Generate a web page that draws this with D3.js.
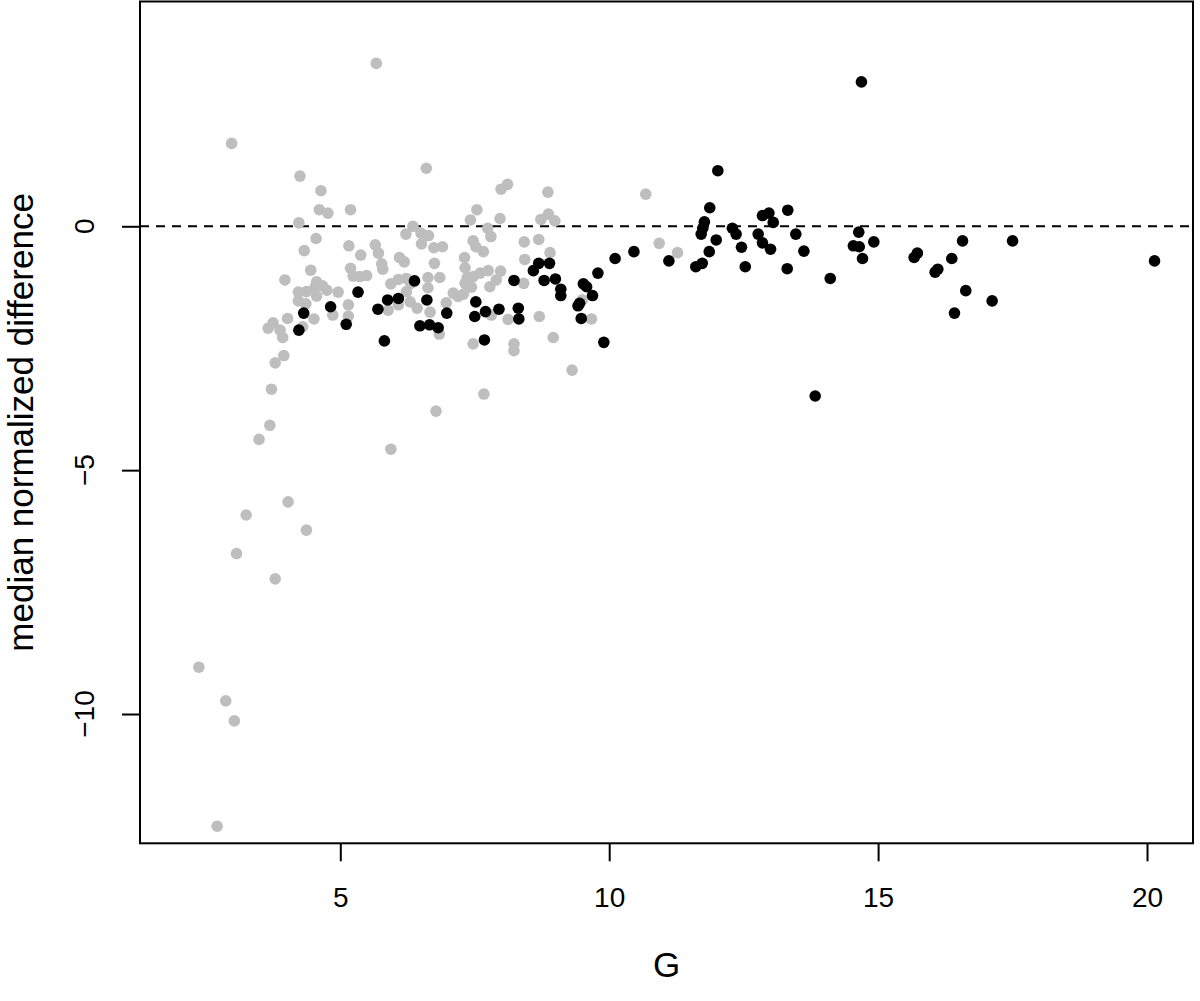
<!DOCTYPE html>
<html>
<head>
<meta charset="utf-8">
<script src="https://cdn.jsdelivr.net/npm/d3@7"></script>
<style>
  html, body { margin: 0; padding: 0; background: #fff; }
  svg { display: block; }
  text { font-family: "Liberation Sans", Arial, Helvetica, sans-serif; fill: #000; }
</style>
</head>
<body>
<svg id="chart" width="1200" height="1001"></svg>
<script>
// ---- data ----
const grayG = [5.67,2.98,4.25,4.64,4.61,4.77,5.19,6.60,4.23,4.55,6.22,6.35,6.50,6.64,
  7.99,8.11,8.86,10.68,7.54,7.42,7.97,8.73,8.87,8.99,7.74,7.80,7.47,7.52,7.66,8.42,8.69,8.43,8.90,
  6.74,6.90,6.75,6.63,6.85,6.63,7.31,7.32,7.36,7.47,7.60,7.75,7.98,7.90,7.78,7.32,7.44,7.10,7.19,7.29,
  6.97,6.67,6.84,7.81,8.12,8.41,8.70,8.96,7.47,8.23,8.23,9.31,7.67,9.50,9.67,10.93,11.27,
  4.33,5.16,5.65,5.71,5.38,6.51,6.10,6.19,5.77,5.79,4.45,5.19,5.24,5.36,5.49,5.94,6.08,6.23,6.31,
  6.23,6.30,6.08,5.89,6.43,3.97,4.22,4.37,4.53,4.56,4.75,4.67,4.96,4.56,4.22,4.36,4.30,4.02,4.51,
  4.86,5.15,5.15,3.66,3.75,3.88,3.93,3.95,3.79,3.72,3.69,3.49,5.94,6.78,
  4.03,3.25,4.37,3.07,3.79,2.37,2.87,3.03,2.71];
const grayDiff = [3.34,1.70,1.03,0.73,0.34,0.27,0.34,1.19,0.07,-0.25,-0.16,0.00,-0.14,-0.19,
  0.76,0.86,0.70,0.66,0.34,0.13,0.16,0.14,0.25,0.11,-0.04,-0.21,-0.30,-0.42,-0.52,-0.32,-0.27,-0.68,-0.54,
  -0.44,-0.42,-0.76,-1.05,-1.05,-1.26,-0.64,-0.85,-1.05,-1.03,-0.96,-0.91,-0.92,-1.10,-1.24,-1.17,-1.25,-1.37,-1.44,-1.39,
  -1.57,-1.76,-2.21,-1.82,-1.91,-1.17,-1.85,-2.28,-2.41,-2.41,-2.55,-2.95,-3.44,-1.51,-1.90,-0.35,-0.54,
  -0.50,-0.40,-0.38,-0.55,-0.59,-0.36,-0.64,-0.73,-0.77,-0.88,-0.90,-0.86,-1.02,-1.03,-1.01,-1.18,-1.09,-1.07,-1.17,
  -1.34,-1.55,-1.61,-1.72,-1.68,-1.10,-1.35,-1.34,-1.25,-1.14,-1.31,-1.22,-1.35,-1.43,-1.53,-1.59,-2.06,-1.89,-1.90,
  -1.82,-1.61,-1.84,-2.09,-1.98,-2.13,-2.28,-2.65,-2.80,-3.34,-4.08,-4.37,-4.57,-3.79,
  -5.65,-5.92,-6.23,-6.71,-7.23,-9.04,-9.73,-10.14,-12.30];
const blackG = [14.69,12.02,11.87,11.77,11.74,11.71,11.99,11.86,11.73,11.61,11.11,10.46,10.11,9.79,9.69,
  9.52,9.58,9.42,9.45,9.48,9.90,9.10,9.10,9.00,8.79,8.89,8.69,8.59,8.23,8.31,8.32,7.95,7.70,7.52,7.50,7.68,
  6.98,6.61,6.48,6.66,6.82,5.33,4.82,4.32,4.23,5.11,5.70,5.88,6.08,6.38,5.82,
  12.29,12.36,12.46,12.53,12.85,12.97,13.05,12.77,12.85,13.00,13.32,13.47,13.62,13.31,14.11,
  14.64,14.54,14.65,14.71,14.92,15.67,15.73,16.06,16.11,16.37,16.57,16.63,16.42,17.12,17.50,20.14,13.83];
const blackDiff = [2.96,1.14,0.38,0.09,-0.04,-0.16,-0.28,-0.52,-0.76,-0.83,-0.71,-0.52,-0.66,-0.96,-1.42,
  -1.18,-1.24,-1.63,-1.58,-1.89,-2.38,-1.29,-1.42,-1.08,-1.11,-0.76,-0.76,-0.91,-1.11,-1.68,-1.90,-1.70,-1.75,-1.55,-1.85,-2.33,
  -1.78,-1.51,-2.04,-2.02,-2.08,-1.35,-1.65,-1.78,-2.13,-2.01,-1.70,-1.51,-1.48,-1.12,-2.35,
  -0.04,-0.16,-0.43,-0.83,0.22,0.27,0.08,-0.16,-0.34,-0.47,0.33,-0.16,-0.51,-0.87,-1.07,
  -0.12,-0.40,-0.42,-0.66,-0.32,-0.64,-0.55,-0.94,-0.88,-0.66,-0.30,-1.32,-1.78,-1.53,-0.30,-0.71,-3.48];
const xTicks = [5, 10, 15, 20];
const yTicks = [-10, -5, 0];
const xLabel = "G";
const yLabel = "median normalized difference";
const refLine = 0;

// ---- layout ----
const L = 140, R = 1193, T = 1.5, B = 843.3;
const svg = d3.select("#chart");
const x = d3.scaleLinear().domain([1.276, 20.855]).range([L, R]);
const y = d3.scaleLinear().domain([-12.651, 4.609]).range([B, T]);

// x axis
const xa = svg.append("g").attr("transform", `translate(0,${B})`)
  .call(d3.axisBottom(x).tickValues(xTicks).tickSize(18).tickSizeOuter(0).tickPadding(26).tickFormat(d3.format("d")));
xa.select(".domain").remove();
xa.selectAll("line").attr("stroke", "#000").attr("stroke-width", 2);
xa.selectAll("text").attr("font-size", 28).attr("font-family", "Liberation Sans, Arial, sans-serif").attr("fill", "#000");

// y axis
const ya = svg.append("g").attr("transform", `translate(${L},0)`)
  .call(d3.axisLeft(y).tickValues(yTicks).tickSize(18).tickSizeOuter(0).tickFormat(""));
ya.select(".domain").remove();
ya.selectAll("line").attr("stroke", "#000").attr("stroke-width", 2);
svg.append("g").selectAll("text").data(yTicks).join("text")
  .attr("transform", d => `translate(94,${y(d)}) rotate(-90)`)
  .attr("text-anchor", "middle").attr("font-size", 28)
  .text(d => d3.format("d")(d));

// reference line
svg.append("line")
  .attr("x1", L).attr("x2", R).attr("y1", y(refLine)).attr("y2", y(refLine))
  .attr("stroke", "#000").attr("stroke-width", 2).attr("stroke-dasharray", "9,7");

// points
const grayPts = grayG.map((g, i) => [g, grayDiff[i]]);
const blackPts = blackG.map((g, i) => [g, blackDiff[i]]);
svg.append("g").selectAll("circle").data(grayPts).join("circle")
  .attr("cx", d => x(d[0])).attr("cy", d => y(d[1])).attr("r", 5.8).attr("fill", "#bebebe");
svg.append("g").selectAll("circle").data(blackPts).join("circle")
  .attr("cx", d => x(d[0])).attr("cy", d => y(d[1])).attr("r", 5.8).attr("fill", "#000");

// box
svg.append("rect").attr("x", L).attr("y", T).attr("width", R - L).attr("height", B - T)
  .attr("fill", "none").attr("stroke", "#000").attr("stroke-width", 2);

// axis titles
svg.append("text").attr("x", (L + R) / 2).attr("y", 977).attr("text-anchor", "middle")
  .attr("font-size", 35).text(xLabel);
svg.append("text").attr("transform", `translate(33,${(T + B) / 2}) rotate(-90)`)
  .attr("text-anchor", "middle").attr("font-size", 35).text(yLabel);
</script>
</body>
</html>
